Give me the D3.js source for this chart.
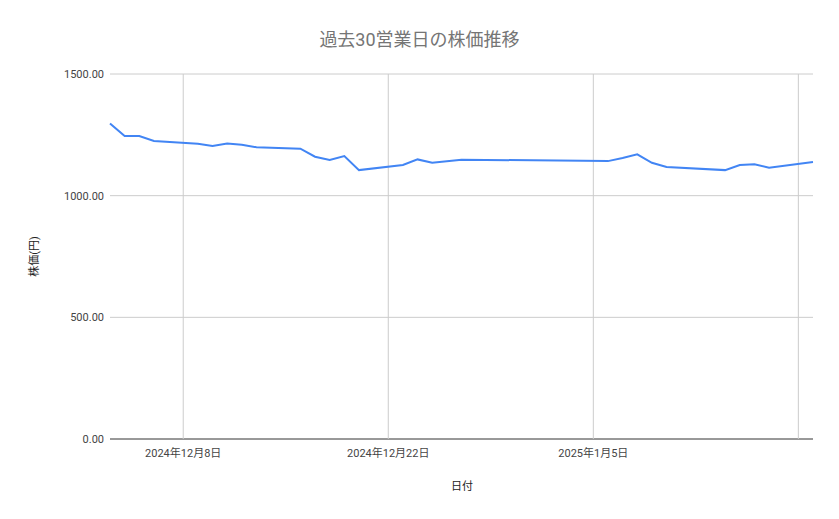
<!DOCTYPE html>
<html><head><meta charset="utf-8">
<script src="https://cdn.jsdelivr.net/npm/d3@7"></script>
<style>body{margin:0;background:#fff;font-family:Roboto,"Noto Sans CJK JP",sans-serif}</style>
</head><body>
<script>
var dates = ["2024-12-03","2024-12-04","2024-12-05","2024-12-06","2024-12-09","2024-12-10","2024-12-11","2024-12-12","2024-12-13",
  "2024-12-16","2024-12-17","2024-12-18","2024-12-19","2024-12-20","2024-12-23","2024-12-24","2024-12-25","2024-12-27",
  "2025-01-06","2025-01-07","2025-01-08","2025-01-09","2025-01-10","2025-01-14","2025-01-15","2025-01-16","2025-01-17","2025-01-20"];
var prices = [1297,1245,1245,1225,1213,1204,1214,1209,1199,1193,1160,1147,1163,1105,1126,1149,1135,1148,
  1142,1155,1170,1135,1118,1105,1126,1129,1115,1138];
var yTicks = [0,500,1000,1500];
var xTickDates = ["2024-12-08","2024-12-22","2025-01-05","2025-01-19"];
var xTickLabels = ["2024年12月8日","2024年12月22日","2025年1月5日",""];

var parse = d3.timeParse("%Y-%m-%d");
var data = dates.map(function(d,i){ return [parse(d), prices[i]]; });
var W = 839, H = 519, margin = {left:110,right:26,top:74,bottom:80};

var x = d3.scaleTime().domain([parse("2024-12-03"), parse("2025-01-20")]).range([margin.left, W-margin.right]);
var y = d3.scaleLinear().domain([0,1500]).range([H-margin.bottom, margin.top]);

var svg = d3.select("body").append("svg").attr("width",W).attr("height",H);

svg.append("text").attr("x",W/2+0).attr("y",46).attr("text-anchor","middle")
  .attr("font-size",18).attr("fill","#757575").text("過去30営業日の株価推移");

svg.append("g").selectAll("line").data(yTicks).join("line")
  .attr("x1",margin.left).attr("x2",W-margin.right)
  .attr("y1",function(d){return y(d);}).attr("y2",function(d){return y(d);})
  .attr("stroke",function(d){return d===0?"#333":"#ccc";});
svg.append("g").selectAll("line").data(xTickDates).join("line")
  .attr("x1",function(d){return x(parse(d));}).attr("x2",function(d){return x(parse(d));})
  .attr("y1",margin.top).attr("y2",H-margin.bottom).attr("stroke","#ccc");

svg.append("g").selectAll("text").data(yTicks).join("text")
  .attr("x",margin.left-6).attr("y",function(d){return y(d)+4;})
  .attr("text-anchor","end").attr("font-size",11).attr("fill","#444")
  .text(function(d){return d3.format(".2f")(d);});
svg.append("g").selectAll("text").data(xTickDates).join("text")
  .attr("x",function(d){return x(parse(d));}).attr("y",H-margin.bottom+18)
  .attr("text-anchor","middle").attr("font-size",11).attr("fill","#444")
  .text(function(d,i){return xTickLabels[i];});

svg.append("text").attr("x",462).attr("y",490).attr("text-anchor","middle")
  .attr("font-size",11).attr("fill","#222").text("日付");
svg.append("text").attr("transform","translate(38,"+(y(750))+") rotate(-90)")
  .attr("text-anchor","middle").attr("font-size",11).attr("fill","#222").text("株価(円)");

var line = d3.line().x(function(d){return x(d[0]);}).y(function(d){return y(d[1]);});
svg.append("path").attr("d",line(data)).attr("fill","none")
  .attr("stroke","#4285f4").attr("stroke-width",2);
</script>
</body></html>
